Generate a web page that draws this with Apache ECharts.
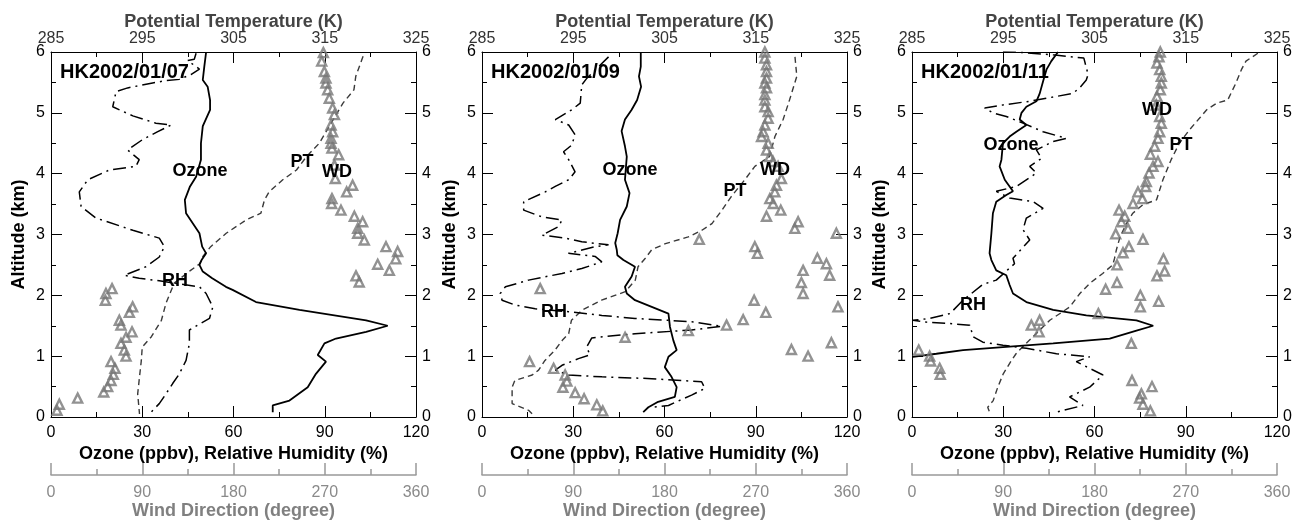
<!DOCTYPE html>
<html>
<head>
<meta charset="utf-8">
<script src="https://cdn.jsdelivr.net/npm/echarts@6/dist/echarts.min.js"></script>
<style>
html,body{margin:0;padding:0;background:#fff;}
#chart{width:1305px;height:521px;}
</style>
</head>
<body>
<div id="chart"></div>
<script>
// ---------- DATA: [value, altitude km] ----------
const panelLabels = ['HK2002/01/07', 'HK2002/01/09', 'HK2002/01/11'];

const ozone07 = [[51,6.0],[50.4,5.76],[49.9,5.54],[51.5,5.43],[52.3,5.21],[52.3,5.05],[49.9,4.78],[49.3,4.5],[49.3,4.23],[47.7,3.95],[45.7,3.79],[44,3.57],[44.4,3.35],[48.8,3.02],[49.7,2.8],[51,2.69],[49.5,2.58],[48.8,2.5],[49.9,2.39],[53,2.28],[57.5,2.14],[59.7,2.09],[67.4,1.89],[81.7,1.76],[103.6,1.59],[110.7,1.5],[103.6,1.4],[93.7,1.29],[89.9,1.21],[87.7,1.02],[90.4,0.91],[87.1,0.71],[84.4,0.49],[78.4,0.27],[72.9,0.19],[72.9,0.08]];
const rh07 = [[47.7,5.98],[47.1,5.88],[44.9,5.86],[48.8,5.72],[46,5.63],[42.2,5.55],[37.8,5.53],[33.4,5.49],[25.2,5.41],[21.4,5.35],[20.3,5.1],[26.9,4.95],[34.5,4.83],[39.5,4.8],[35.1,4.69],[30.1,4.56],[25.2,4.39],[29,4.23],[27.9,4.12],[19.2,4.06],[12.1,3.9],[9.3,3.7],[9.9,3.46],[14.8,3.27],[26.9,3.07],[35.6,2.94],[37.3,2.8],[35.6,2.63],[31.2,2.47],[24.1,2.33],[29,2.28],[35.6,2.24],[48.8,2.14],[51,2.03],[53.2,1.81],[52.1,1.62],[48.2,1.51],[45.5,1.43],[45.5,1.21],[44.4,0.93],[42.2,0.71],[40,0.55],[37.8,0.38],[35.6,0.22],[32.9,0.08]];
const pt07 = [[319.2,5.93],[318.4,5.6],[318.2,5.38],[317,5.16],[315.5,4.78],[314.4,4.5],[313,4.28],[311.9,4.06],[310.4,3.9],[308.9,3.7],[308.4,3.57],[308,3.35],[306.4,3.24],[304.2,3.02],[302.5,2.8],[301.6,2.63],[301.3,2.52],[300.3,2.41],[298.5,2.2],[297.6,1.87],[297.1,1.59],[296,1.32],[295,1.15],[294.9,0.93],[294.7,0.66],[294.5,0.38],[294.7,0.05]];
const wd07 = [[268.6,5.99],[267,5.85],[269.6,5.68],[271.2,5.57],[271.2,5.49],[272.9,5.38],[274.5,5.24],[277.8,5.08],[279.5,4.97],[276.2,4.8],[277.8,4.69],[276.2,4.58],[276.2,4.5],[277.1,4.42],[283.7,4.31],[279.5,4.14],[280.4,3.92],[297.5,3.81],[291.6,3.7],[277.1,3.59],[276.8,3.51],[286,3.4],[299.2,3.3],[307.4,3.21],[302.5,3.1],[302.5,3.02],[309,2.91],[330.4,2.8],[341.9,2.72],[340,2.6],[322.2,2.51],[333.7,2.41],[300.8,2.32],[304,2.22],[60.2,2.11],[54.2,2.03],[53.6,1.92],[80.5,1.81],[77.3,1.72],[67.4,1.59],[69,1.51],[79.9,1.4],[74,1.31],[69,1.21],[72.3,1.1],[74,1.0],[59.2,0.91],[63.1,0.8],[61.5,0.7],[59.2,0.6],[55.9,0.5],[52,0.41],[26.3,0.31],[8.2,0.21],[5.9,0.11]];

const ozone09 = [[52.2,6.0],[52.2,5.76],[51.6,5.6],[52.3,5.43],[51,5.21],[49.2,5.05],[47,4.89],[45.9,4.7],[47,4.45],[47.6,4.28],[47,3.9],[48.5,3.68],[47.6,3.46],[45.4,3.24],[44.6,3.02],[43.8,2.86],[44.3,2.75],[44.5,2.66],[46.5,2.58],[50.3,2.47],[49.2,2.31],[47,2.14],[47.6,2.03],[50.3,1.92],[55.8,1.81],[61.3,1.7],[61.8,1.48],[62.9,1.26],[64,1.1],[61.3,0.99],[60.1,0.82],[62.3,0.66],[64,0.49],[63.4,0.33],[57.9,0.25],[54.7,0.16],[53,0.08]];
const rh09 = [[41.6,5.92],[34.5,5.57],[32.8,5.46],[32.3,5.16],[29.5,5.05],[24.1,4.89],[28.5,4.8],[30.6,4.64],[29.5,4.47],[26.8,4.36],[28.5,4.23],[30.6,4.03],[28.5,3.9],[24.1,3.79],[20.8,3.7],[13.7,3.54],[13.7,3.4],[19.7,3.29],[26.3,3.24],[25.2,3.13],[19.7,2.99],[27.3,2.94],[32.8,2.88],[41.6,2.83],[37.2,2.8],[28.4,2.69],[37.2,2.64],[39.4,2.55],[32.8,2.44],[26.3,2.36],[15.3,2.25],[7.7,2.14],[6,2.03],[6.6,1.92],[10.9,1.84],[17.5,1.78],[28.5,1.73],[39.4,1.67],[50.3,1.62],[61.3,1.59],[70,1.56],[78.8,1.49],[68.9,1.43],[50.3,1.37],[36.1,1.3],[34.4,1.15],[35.5,1.02],[31.7,0.96],[26.3,0.85],[24.1,0.77],[28.5,0.69],[39.4,0.66],[55.8,0.63],[72.2,0.58],[73.3,0.47],[68.9,0.36],[61.3,0.19],[55.8,0.16]];
const pt09 = [[319.3,5.92],[319.5,5.6],[318.7,5.21],[318,4.89],[317.1,4.61],[316.5,4.28],[314.9,4.12],[313.8,3.9],[312.3,3.62],[311.3,3.4],[310.2,3.18],[309.1,3.07],[307.6,2.96],[305.1,2.85],[303.6,2.75],[302.9,2.61],[302.1,2.47],[301.8,2.25],[300.7,2.06],[298.1,1.92],[296,1.76],[294.8,1.59],[294.5,1.37],[293.8,1.26],[293,1.1],[291.9,0.93],[291.2,0.77],[290.5,0.69],[288.6,0.6],[288.3,0.49],[288.3,0.22],[290.1,0.11],[290.5,0.05]];
const wd09 = [[279,6.0],[279,5.9],[280.6,5.79],[280.6,5.68],[280.6,5.57],[279,5.49],[280.6,5.41],[279,5.3],[279,5.21],[279,5.1],[282.2,5.02],[282.2,4.91],[279,4.8],[277.3,4.69],[275.7,4.61],[282.2,4.5],[280.6,4.39],[283.9,4.28],[287.1,4.2],[292,4.12],[295.3,3.92],[290.4,3.81],[288.8,3.7],[283.9,3.59],[287.1,3.51],[294.7,3.4],[280.6,3.3],[311.8,3.21],[308.5,3.1],[349.5,3.02],[214.3,2.92],[269.1,2.8],[271.7,2.69],[330.8,2.61],[339.7,2.52],[316.7,2.41],[342.9,2.33],[315,2.21],[57.4,2.11],[316.7,2.03],[268.4,1.92],[351.1,1.81],[279.9,1.72],[257.6,1.6],[241.2,1.51],[203.5,1.42],[141.1,1.31],[344.6,1.22],[305.2,1.11],[321.6,1.0],[46.9,0.91],[70.6,0.8],[82,0.69],[83.7,0.59],[79.8,0.49],[91.9,0.4],[100.7,0.3],[113.2,0.2],[119.1,0.1]];

const ozone11 = [[48,6.0],[45.8,5.85],[44.2,5.71],[43.1,5.52],[42,5.32],[40.9,5.19],[37.6,5.1],[36,5.0],[35.4,4.89],[37.6,4.8],[34.3,4.69],[32.1,4.61],[29.9,4.5],[29.4,4.23],[28.8,4.12],[30.5,3.9],[33.2,3.71],[31,3.65],[27.7,3.54],[26.6,3.35],[26.1,3.02],[25.5,2.69],[26.1,2.58],[27.7,2.41],[31,2.33],[32.1,2.17],[33.2,2.03],[37.6,1.89],[46.4,1.76],[57.3,1.67],[73.8,1.59],[79.3,1.5],[73.8,1.42],[65,1.29],[46.4,1.21],[29.9,1.15],[16.8,1.1],[8,1.04],[0.3,0.99]];
const rh11 = [[29.9,6.0],[37,5.99],[47,5.95],[56.5,5.9],[57.9,5.63],[57.3,5.54],[55.1,5.41],[52.9,5.32],[47.5,5.27],[38.7,5.19],[29.9,5.13],[23.9,5.08],[26.6,5.0],[31,4.94],[36.5,4.83],[43.1,4.69],[50.7,4.58],[46.4,4.53],[40.9,4.39],[42.6,4.25],[38.7,4.12],[40.9,4.01],[34.3,3.79],[27.7,3.71],[32.1,3.6],[39.8,3.54],[43.1,3.43],[37.6,3.27],[36.5,3.08],[38.7,2.91],[33.2,2.61],[33.7,2.52],[27.7,2.25],[23.3,2.18],[16.8,1.92],[12.5,1.7],[5.8,1.62],[0.3,1.59],[4.7,1.56],[11.4,1.54],[19,1.51],[20.1,1.32],[23.3,1.23],[29.9,1.18],[37.6,1.13],[47.5,1.04],[58.4,0.99],[54,0.91],[62.8,0.69],[58.4,0.49],[51.8,0.33],[56.2,0.19],[47.5,0.08]];
const pt11 = [[322.9,5.98],[321.6,5.85],[321.1,5.71],[320.5,5.49],[319.6,5.21],[318.4,5.16],[317.3,5.05],[316.5,4.91],[315.4,4.72],[314.3,4.5],[313.4,4.23],[312.5,3.9],[311.8,3.57],[310.3,3.49],[309.2,3.35],[308.5,3.18],[307.8,2.96],[307.4,2.75],[307.2,2.61],[307,2.5],[305.9,2.36],[304.5,2.2],[303.4,2.03],[302.3,1.81],[300.1,1.59],[298.6,1.37],[297.5,1.21],[296.4,1.04],[295.9,0.93],[295,0.71],[294.4,0.49],[293.9,0.27],[293.3,0.16],[293.5,0.08]];
const wd11 = [[244.9,6.0],[243.6,5.92],[241.6,5.82],[244.3,5.71],[245.9,5.6],[245.9,5.49],[244.9,5.38],[241.6,5.27],[240.9,5.13],[244.3,4.94],[245.9,4.83],[244.3,4.69],[242.6,4.58],[239.3,4.45],[235.1,4.32],[242.6,4.2],[237.7,4.12],[233.8,4.01],[231.1,3.87],[230.5,3.79],[222.9,3.7],[227.2,3.59],[218,3.51],[204.2,3.4],[209.8,3.3],[206.5,3.21],[213,3.1],[200.9,3.01],[227.8,2.92],[214,2.8],[208.1,2.7],[248,2.6],[202.2,2.5],[249.2,2.4],[241.6,2.32],[202.2,2.21],[191,2.1],[225.2,2.0],[243.3,1.9],[225.2,1.81],[183.8,1.7],[125.9,1.59],[117.7,1.51],[125.3,1.4],[216.3,1.21],[6.6,1.1],[17.4,1.0],[18.4,0.92],[27.3,0.8],[27.9,0.7],[217,0.6],[236.7,0.5],[226.2,0.38],[224.5,0.31],[227.8,0.21],[235.1,0.1]];

// ---------- LAYOUT ----------
const FONT = '"Liberation Sans", Arial, Helvetica, sans-serif';
const panels = [
  {label: panelLabels[0], ozone: ozone07, rh: rh07, pt: pt07, wd: wd07, left: 51},
  {label: panelLabels[1], ozone: ozone09, rh: rh09, pt: pt09, wd: wd09, left: 482},
  {label: panelLabels[2], ozone: ozone11, rh: rh11, pt: pt11, wd: wd11, left: 912}
];
const GW = 365, GT = 52, GH = 365;

// in-plot text annotations (pixel centers)
const annotations = [
  ['Ozone', 200, 171], ['PT', 302, 162], ['WD', 337, 172], ['RH', 175, 281],
  ['Ozone', 630, 170], ['WD', 775, 170], ['PT', 735, 191], ['RH', 554, 312],
  ['WD', 1157, 110], ['PT', 1181, 145], ['Ozone', 1011, 145], ['RH', 973, 305]
];

const grids = [], xAxes = [], yAxes = [], series = [], graphics = [];
panels.forEach((p, i) => {
  grids.push({left: p.left, top: GT, width: GW, height: GH, containLabel: false, outerBoundsMode: 'none'});
  const blk = '#000';
  // bottom: ozone / RH
  xAxes.push({
    type: 'value', gridIndex: i, position: 'bottom', min: 0, max: 120, interval: 30,
    axisLine: {show: true, onZero: false, lineStyle: {color: blk, width: 1}},
    axisTick: {show: true, inside: true, length: 11, lineStyle: {color: blk}},
    minorTick: {show: true, splitNumber: 2, length: 5, lineStyle: {color: blk}},
    splitLine: {show: false}, minorSplitLine: {show: false},
    axisLabel: {color: blk, fontSize: 16, margin: 8, fontFamily: FONT, showMinLabel: true, showMaxLabel: true, hideOverlap: false},
    name: 'Ozone (ppbv), Relative Humidity (%)', nameLocation: 'middle', nameGap: 28, nameMoveOverlap: false,
    nameTextStyle: {color: blk, fontSize: 18, fontWeight: 'bold', fontFamily: FONT}
  });
  // top: potential temperature
  xAxes.push({
    type: 'value', gridIndex: i, position: 'top', min: 285, max: 325, interval: 10,
    axisLine: {show: true, onZero: false, lineStyle: {color: blk, width: 1}},
    axisTick: {show: true, inside: true, length: 11, lineStyle: {color: blk}},
    minorTick: {show: true, splitNumber: 2, length: 5, lineStyle: {color: blk}},
    splitLine: {show: false},
    axisLabel: {color: '#333', fontSize: 16, margin: 5, fontFamily: FONT, showMinLabel: true, showMaxLabel: true, hideOverlap: false},
    name: 'Potential Temperature (K)', nameLocation: 'middle', nameGap: 21, nameMoveOverlap: false,
    nameTextStyle: {color: '#444', fontSize: 18, fontWeight: 'bold', fontFamily: FONT}
  });
  // wind direction, offset below
  xAxes.push({
    type: 'value', gridIndex: i, position: 'bottom', offset: 58, min: 0, max: 360, interval: 90,
    axisLine: {show: true, onZero: false, lineStyle: {color: '#999', width: 1.5}},
    axisTick: {show: true, inside: true, length: 12, lineStyle: {color: '#999', width: 1.5}},
    minorTick: {show: true, splitNumber: 2, length: 6, lineStyle: {color: '#999', width: 1.5}},
    splitLine: {show: false},
    axisLabel: {color: '#8a8a8a', fontSize: 16, margin: 10, fontFamily: FONT, showMinLabel: true, showMaxLabel: true, hideOverlap: false},
    name: 'Wind Direction (degree)', nameLocation: 'middle', nameGap: 27, nameMoveOverlap: false,
    nameTextStyle: {color: '#808080', fontSize: 18, fontWeight: 'bold', fontFamily: FONT}
  });
  // left altitude
  yAxes.push({
    type: 'value', gridIndex: i, position: 'left', min: 0, max: 6, interval: 1,
    axisLine: {show: true, onZero: false, lineStyle: {color: blk, width: 1}},
    axisTick: {show: true, inside: true, length: 11, lineStyle: {color: blk}},
    minorTick: {show: true, splitNumber: 2, length: 5, lineStyle: {color: blk}},
    splitLine: {show: false},
    axisLabel: {color: blk, fontSize: 16, margin: 6, fontFamily: FONT, showMinLabel: true, showMaxLabel: true, hideOverlap: false},
    name: 'Altitude (km)', nameLocation: 'middle', nameGap: 23, nameMoveOverlap: false,
    nameTextStyle: {color: blk, fontSize: 18, fontWeight: 'bold', fontFamily: FONT}
  });
  // right altitude
  yAxes.push({
    type: 'value', gridIndex: i, position: 'right', min: 0, max: 6, interval: 1,
    axisLine: {show: true, onZero: false, lineStyle: {color: blk, width: 1}},
    axisTick: {show: true, inside: true, length: 11, lineStyle: {color: blk}},
    minorTick: {show: true, splitNumber: 2, length: 5, lineStyle: {color: blk}},
    splitLine: {show: false},
    axisLabel: {color: blk, fontSize: 16, margin: 6, fontFamily: FONT, showMinLabel: true, showMaxLabel: true, hideOverlap: false}
  });

  const xb = 3 * i, xt = 3 * i + 1, xw = 3 * i + 2, yl = 2 * i;
  series.push({
    type: 'line', name: 'PT' + i, xAxisIndex: xt, yAxisIndex: yl, data: p.pt,
    showSymbol: false, symbol: 'none', smooth: false, silent: true,
    lineStyle: {color: '#3a3a3a', width: 1.4, type: [6, 4]}, z: 3
  });
  series.push({
    type: 'line', name: 'RH' + i, xAxisIndex: xb, yAxisIndex: yl, data: p.rh,
    showSymbol: false, symbol: 'none', smooth: false, silent: true,
    lineStyle: {color: '#000', width: 1.5, type: [13, 5, 2, 5]}, z: 3
  });
  series.push({
    type: 'line', name: 'Ozone' + i, xAxisIndex: xb, yAxisIndex: yl, data: p.ozone,
    showSymbol: false, symbol: 'none', smooth: false, silent: true,
    lineStyle: {color: '#000', width: 1.8}, z: 4
  });
  series.push({
    type: 'scatter', name: 'WD' + i, xAxisIndex: xw, yAxisIndex: yl, data: p.wd,
    symbol: 'triangle', symbolSize: 9, silent: true,
    itemStyle: {color: 'rgba(0,0,0,0)', borderColor: '#777', borderWidth: 2.4}, z: 5
  });

  graphics.push({
    type: 'text', left: p.left + 9, top: 62, z: 100,
    style: {text: p.label, fill: '#000', font: 'bold 20px ' + FONT}
  });
});

annotations.forEach(a => {
  graphics.push({
    type: 'text', x: a[1], y: a[2], z: 100,
    style: {text: a[0], fill: '#000', font: 'bold 18px ' + FONT, align: 'center', verticalAlign: 'middle'}
  });
});

const chart = echarts.init(document.getElementById('chart'), null, {renderer: 'canvas'});
chart.setOption({
  backgroundColor: '#fff',
  animation: false,
  grid: grids,
  xAxis: xAxes,
  yAxis: yAxes,
  series: series,
  graphic: graphics
});
</script>
</body>
</html>
